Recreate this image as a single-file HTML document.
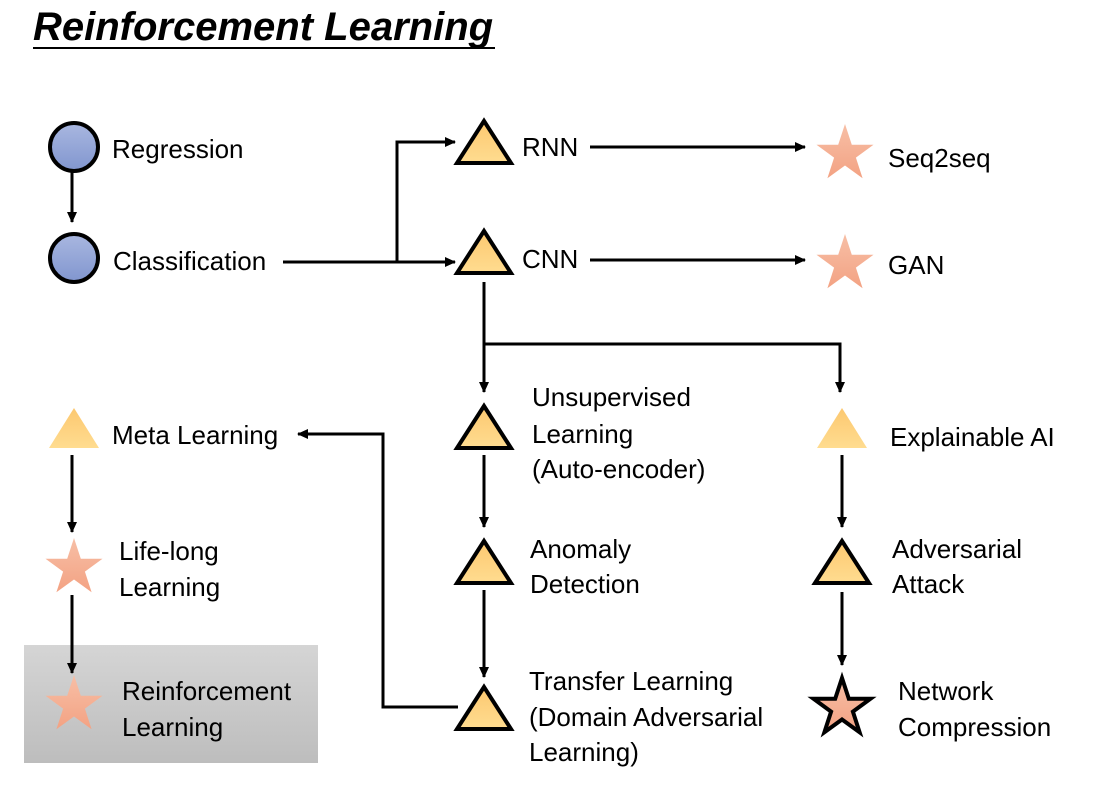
<!DOCTYPE html>
<html><head><meta charset="utf-8"><style>
html,body{margin:0;padding:0;background:#fff;}
svg text{font-family:"Liberation Sans",sans-serif;font-size:26px;fill:#000;}
</style></head><body>
<svg width="1097" height="800" viewBox="0 0 1097 800" xmlns="http://www.w3.org/2000/svg">
<defs>
<linearGradient id="cg" x1="0" y1="0" x2="0" y2="1"><stop offset="0" stop-color="#a9b7e0"/><stop offset="1" stop-color="#8196cf"/></linearGradient>
<linearGradient id="tg" x1="0" y1="0" x2="0" y2="1"><stop offset="0" stop-color="#fcc870"/><stop offset="1" stop-color="#ffdc90"/></linearGradient>
<linearGradient id="sg" x1="0" y1="0" x2="0" y2="1"><stop offset="0" stop-color="#f7bfa6"/><stop offset="1" stop-color="#f3a283"/></linearGradient>
<linearGradient id="bg" x1="0" y1="0" x2="0" y2="1"><stop offset="0" stop-color="#d5d5d5"/><stop offset="1" stop-color="#bdbdbd"/></linearGradient>
<marker id="ar" markerWidth="12" markerHeight="12" refX="10" refY="6" orient="auto" markerUnits="userSpaceOnUse"><path d="M0,1 L11,6 L0,11 z" fill="#000"/></marker>
<polygon id="star" points="0,-30 6.8,-9.3 28.5,-9.3 10.9,3.6 17.6,24.3 0,11.5 -17.6,24.3 -10.9,3.6 -28.5,-9.3 -6.8,-9.3"/>
<polygon id="tri" points="0,-21 27,21 -27,21"/>
</defs>

<text x="33" y="40" style="font-size:40px;font-weight:bold;font-style:italic;">Reinforcement Learning</text>
<line x1="33" y1="48" x2="495" y2="48" stroke="#000" stroke-width="2"/>

<rect x="24" y="645" width="294" height="118" fill="url(#bg)"/>

<g stroke="#000" stroke-width="3" fill="none">
<line x1="72" y1="172" x2="72" y2="222" marker-end="url(#ar)"/>
<line x1="283" y1="262" x2="455" y2="262" marker-end="url(#ar)"/>
<polyline points="397,262 397,142 455,142" marker-end="url(#ar)"/>
<line x1="590" y1="147" x2="805" y2="147" marker-end="url(#ar)"/>
<line x1="590" y1="260" x2="805" y2="260" marker-end="url(#ar)"/>
<line x1="484" y1="282" x2="484" y2="392" marker-end="url(#ar)"/>
<polyline points="484,344 840,344 840,392" marker-end="url(#ar)"/>
<line x1="484" y1="455" x2="484" y2="527" marker-end="url(#ar)"/>
<line x1="484" y1="590" x2="484" y2="677" marker-end="url(#ar)"/>
<line x1="842" y1="455" x2="842" y2="527" marker-end="url(#ar)"/>
<line x1="842" y1="592" x2="842" y2="665" marker-end="url(#ar)"/>
<polyline points="458,707 383,707 383,434 298,434" marker-end="url(#ar)"/>
<line x1="72" y1="455" x2="72" y2="532" marker-end="url(#ar)"/>
<line x1="72" y1="595" x2="72" y2="673" marker-end="url(#ar)"/>
</g>

<circle cx="74" cy="147" r="24" fill="url(#cg)" stroke="#000" stroke-width="4"/>
<circle cx="74" cy="258" r="24" fill="url(#cg)" stroke="#000" stroke-width="4"/>

<g fill="url(#tg)" stroke="#000" stroke-width="4" stroke-linejoin="miter">
<use href="#tri" transform="translate(484,142)"/>
<use href="#tri" transform="translate(484,252)"/>
<use href="#tri" transform="translate(484,427)"/>
<use href="#tri" transform="translate(484,562)"/>
<use href="#tri" transform="translate(484,708)"/>
<use href="#tri" transform="translate(842,562)"/>
</g>
<g fill="url(#tg)">
<polygon points="842,408 867,448 817,448"/>
<polygon points="74,408 99,448 49,448"/>
</g>

<g fill="url(#sg)">
<use href="#star" transform="translate(845,154)"/>
<use href="#star" transform="translate(845,264)"/>
<use href="#star" transform="translate(74,568)"/>
<use href="#star" transform="translate(74,705)"/>
</g>
<use href="#star" transform="translate(842,708)" fill="url(#sg)" stroke="#000" stroke-width="4"/>

<text x="112" y="158">Regression</text>
<text x="113" y="270">Classification</text>
<text x="522" y="156">RNN</text>
<text x="522" y="268">CNN</text>
<text x="888" y="167">Seq2seq</text>
<text x="888" y="274">GAN</text>
<text x="532" y="406">Unsupervised</text>
<text x="532" y="443">Learning</text>
<text x="532" y="478">(Auto-encoder)</text>
<text x="890" y="446">Explainable AI</text>
<text x="112" y="444">Meta Learning</text>
<text x="530" y="558">Anomaly</text>
<text x="530" y="593">Detection</text>
<text x="892" y="558">Adversarial</text>
<text x="892" y="593">Attack</text>
<text x="529" y="690">Transfer Learning</text>
<text x="529" y="726">(Domain Adversarial</text>
<text x="529" y="761">Learning)</text>
<text x="898" y="700">Network</text>
<text x="898" y="736">Compression</text>
<text x="119" y="560">Life-long</text>
<text x="119" y="596">Learning</text>
<text x="122" y="700">Reinforcement</text>
<text x="122" y="736">Learning</text>
</svg>
</body></html>
